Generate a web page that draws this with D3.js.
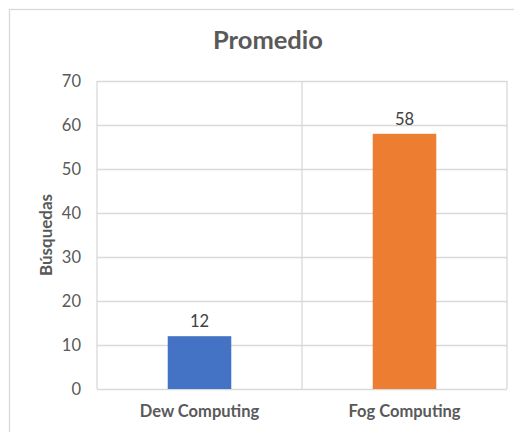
<!DOCTYPE html>
<html>
<head>
<meta charset="utf-8">
<script src="https://cdn.jsdelivr.net/npm/d3@7/dist/d3.min.js"></script>
<style>
  html, body { margin: 0; padding: 0; background: #fff; }
  svg { display: block; font-family: Lato, "Open Sans", sans-serif; }
</style>
</head>
<body>
<svg id="chart" width="514" height="432"></svg>
<script>
// Average number of searches per paradigm
const categories = ["Dew Computing", "Fog Computing"];
const values = [12, 58];
const colors = ["#4472C4", "#ED7D31"];
const yTicks = [0, 10, 20, 30, 40, 50, 60, 70];
const title = "Promedio";
const yTitle = "Búsquedas";

const svg = d3.select("#chart");
const W = 514, H = 432;
const plot = { left: 97, right: 507, top: 81, bottom: 389 };

// chart frame
svg.append("rect")
  .attr("x", 9.5).attr("y", 9.5)
  .attr("width", W + 20).attr("height", H + 20)
  .attr("fill", "#fff").attr("stroke", "#d9d9d9").attr("stroke-width", 1.3);

const x = d3.scaleBand().domain(categories)
  .range([plot.left, plot.right]).paddingInner(0.69).paddingOuter(0.345);
const y = d3.scaleLinear().domain([0, 70]).range([plot.bottom, plot.top]);

// horizontal gridlines + labels via the axis generator
const yAxis = d3.axisLeft(y).tickValues(yTicks).tickSize(-(plot.right - plot.left)).tickPadding(16);
const gy = svg.append("g").attr("transform", `translate(${plot.left},0)`).call(yAxis);
gy.select(".domain").remove();
gy.selectAll(".tick line").attr("stroke", "#d9d9d9").attr("stroke-width", 1.3);
gy.selectAll(".tick text").attr("fill", "#595959").style("font-size", "16.5px").style("font-family", "Lato, sans-serif");

// vertical category separators
const seps = [plot.left, plot.left + (plot.right - plot.left) / 2, plot.right];
svg.append("g").selectAll("line").data(seps).join("line")
  .attr("x1", d => d).attr("x2", d => d)
  .attr("y1", plot.top).attr("y2", plot.bottom)
  .attr("stroke", "#d9d9d9").attr("stroke-width", 1.3);

// bars
svg.append("g").selectAll("rect").data(categories).join("rect")
  .attr("x", d => x(d)).attr("width", x.bandwidth())
  .attr("y", (d, i) => y(values[i]))
  .attr("height", (d, i) => y(0) - y(values[i]))
  .attr("fill", (d, i) => colors[i]);

// value labels
svg.append("g").selectAll("text").data(categories).join("text")
  .attr("x", d => x(d) + x.bandwidth() / 2)
  .attr("y", (d, i) => y(values[i]) - 9)
  .attr("text-anchor", "middle")
  .attr("fill", "#404040").style("font-size", "16.5px")
  .text((d, i) => values[i]);

// category labels
const xAxis = d3.axisBottom(x).tickSize(0).tickPadding(16);
const gx = svg.append("g").attr("transform", `translate(0,${plot.bottom})`).call(xAxis);
gx.select(".domain").remove();
gx.selectAll(".tick text").attr("fill", "#595959").style("font-size", "16.5px")
  .style("font-weight", "bold").style("font-family", "Lato, sans-serif");

// title
svg.append("text").attr("x", 268).attr("y", 49).attr("text-anchor", "middle")
  .attr("fill", "#595959").style("font-size", "25.5px").style("font-weight", "bold")
  .text(title);

// y-axis title
svg.append("text")
  .attr("transform", `translate(52,235) rotate(-90)`)
  .attr("text-anchor", "middle")
  .attr("fill", "#595959").style("font-size", "17px").style("font-weight", "bold")
  .text(yTitle);
</script>
</body>
</html>
